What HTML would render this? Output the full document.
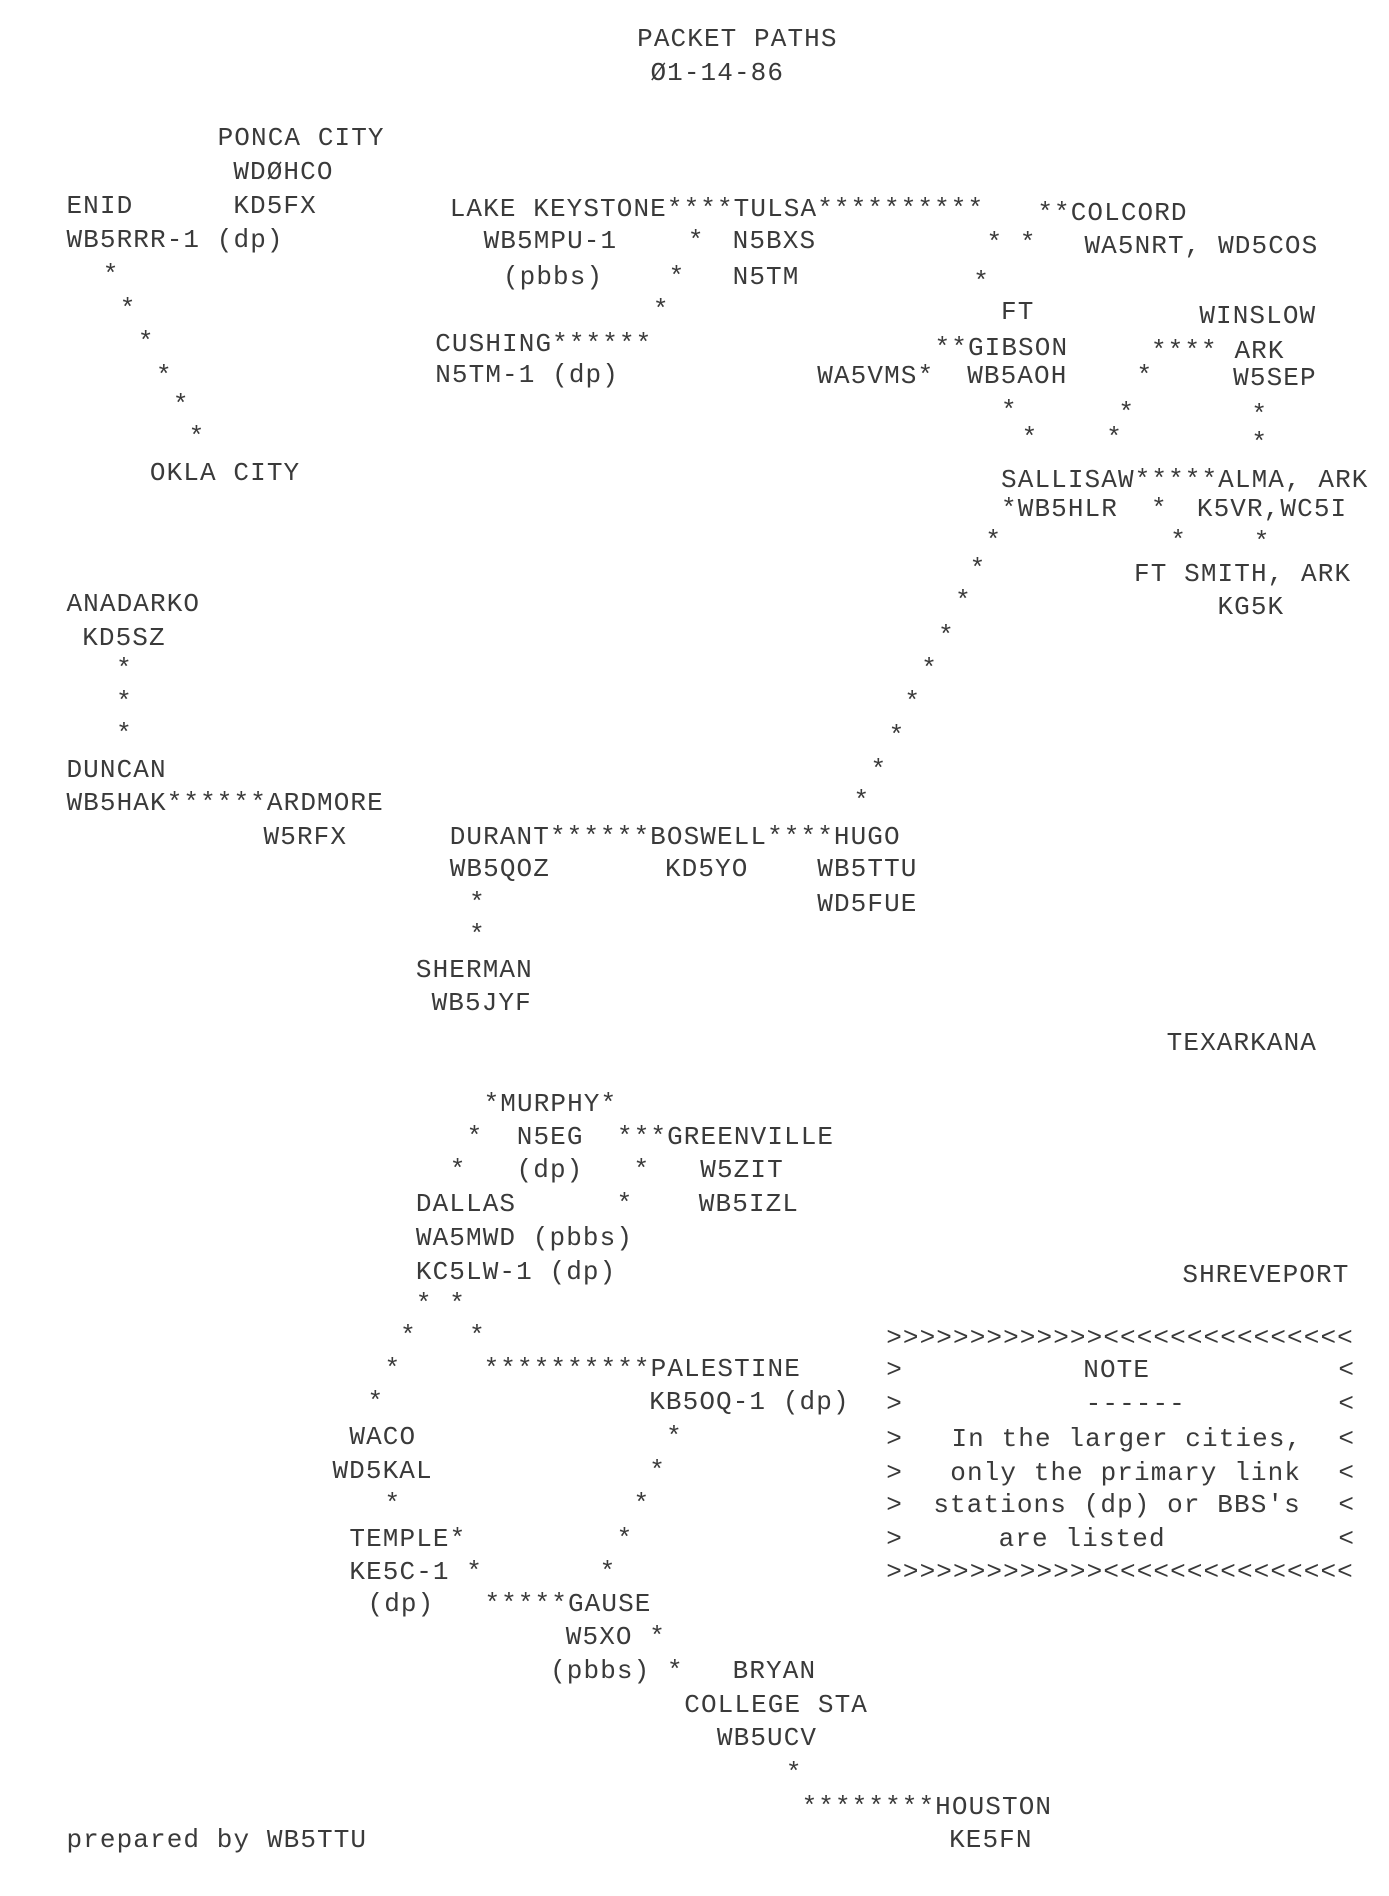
<!DOCTYPE html>
<html><head><meta charset="utf-8"><style>
html,body{margin:0;padding:0;background:#fff;}
body{width:1389px;height:1896px;position:relative;overflow:hidden;}
.t{position:absolute;white-space:pre;font-family:"Liberation Mono",monospace;font-size:26px;letter-spacing:1.1px;line-height:26px;color:#3a3a3a;
left:calc(var(--x) * 1.209px);top:calc(var(--y) * 1.21px - 13px);}
</style></head><body>
<div class="t" style="--x:527;--y:32">PACKET PATHS</div>
<div class="t" style="--x:538;--y:60">Ø1-14-86</div>
<div class="t" style="--x:180;--y:114">PONCA CITY</div>
<div class="t" style="--x:193;--y:142">WDØHCO</div>
<div class="t" style="--x:55;--y:170">ENID</div>
<div class="t" style="--x:193;--y:170">KD5FX</div>
<div class="t" style="--x:55;--y:198">WB5RRR-1 (dp)</div>
<div class="t" style="--x:85;--y:227">*</div>
<div class="t" style="--x:99;--y:255">*</div>
<div class="t" style="--x:114;--y:283">*</div>
<div class="t" style="--x:129;--y:311">*</div>
<div class="t" style="--x:143;--y:335">*</div>
<div class="t" style="--x:156;--y:361">*</div>
<div class="t" style="--x:124;--y:391">OKLA CITY</div>
<div class="t" style="--x:372;--y:173">LAKE KEYSTONE****TULSA**********</div>
<div class="t" style="--x:858;--y:176">**COLCORD</div>
<div class="t" style="--x:400;--y:199">WB5MPU-1</div>
<div class="t" style="--x:569;--y:199">*</div>
<div class="t" style="--x:606;--y:199">N5BXS</div>
<div class="t" style="--x:816;--y:201">* *</div>
<div class="t" style="--x:897;--y:203">WA5NRT, WD5COS</div>
<div class="t" style="--x:416;--y:229">(pbbs)</div>
<div class="t" style="--x:553;--y:229">*</div>
<div class="t" style="--x:606;--y:229">N5TM</div>
<div class="t" style="--x:805;--y:233">*</div>
<div class="t" style="--x:540;--y:256">*</div>
<div class="t" style="--x:828;--y:258">FT</div>
<div class="t" style="--x:992;--y:261">WINSLOW</div>
<div class="t" style="--x:360;--y:284">CUSHING******</div>
<div class="t" style="--x:773;--y:288">**GIBSON</div>
<div class="t" style="--x:952;--y:290">**** ARK</div>
<div class="t" style="--x:360;--y:310">N5TM-1 (dp)</div>
<div class="t" style="--x:676;--y:311">WA5VMS*</div>
<div class="t" style="--x:800;--y:311">WB5AOH</div>
<div class="t" style="--x:940;--y:311">*</div>
<div class="t" style="--x:1020;--y:312">W5SEP</div>
<div class="t" style="--x:828;--y:340">*</div>
<div class="t" style="--x:925;--y:341">*</div>
<div class="t" style="--x:1035;--y:343">*</div>
<div class="t" style="--x:845;--y:362">*</div>
<div class="t" style="--x:915;--y:362">*</div>
<div class="t" style="--x:1035;--y:366">*</div>
<div class="t" style="--x:828;--y:397">SALLISAW*****ALMA, ARK</div>
<div class="t" style="--x:828;--y:421">*WB5HLR</div>
<div class="t" style="--x:952;--y:421">*</div>
<div class="t" style="--x:990;--y:421">K5VR,WC5I</div>
<div class="t" style="--x:815;--y:447">*</div>
<div class="t" style="--x:968;--y:447">*</div>
<div class="t" style="--x:1037;--y:448">*</div>
<div class="t" style="--x:802;--y:470">*</div>
<div class="t" style="--x:938;--y:474">FT SMITH, ARK</div>
<div class="t" style="--x:790;--y:497">*</div>
<div class="t" style="--x:1007;--y:502">KG5K</div>
<div class="t" style="--x:776;--y:526">*</div>
<div class="t" style="--x:762;--y:553">*</div>
<div class="t" style="--x:748;--y:580">*</div>
<div class="t" style="--x:735;--y:608">*</div>
<div class="t" style="--x:720;--y:636">*</div>
<div class="t" style="--x:706;--y:662">*</div>
<div class="t" style="--x:55;--y:499">ANADARKO</div>
<div class="t" style="--x:68;--y:527">KD5SZ</div>
<div class="t" style="--x:96;--y:553">*</div>
<div class="t" style="--x:96;--y:580">*</div>
<div class="t" style="--x:96;--y:607">*</div>
<div class="t" style="--x:55;--y:636">DUNCAN</div>
<div class="t" style="--x:55;--y:664">WB5HAK******ARDMORE</div>
<div class="t" style="--x:218;--y:692">W5RFX</div>
<div class="t" style="--x:372;--y:692">DURANT******BOSWELL****HUGO</div>
<div class="t" style="--x:372;--y:718">WB5QOZ</div>
<div class="t" style="--x:550;--y:718">KD5YO</div>
<div class="t" style="--x:676;--y:718">WB5TTU</div>
<div class="t" style="--x:388;--y:746">*</div>
<div class="t" style="--x:676;--y:747">WD5FUE</div>
<div class="t" style="--x:388;--y:773">*</div>
<div class="t" style="--x:344;--y:802">SHERMAN</div>
<div class="t" style="--x:357;--y:829">WB5JYF</div>
<div class="t" style="--x:965;--y:862">TEXARKANA</div>
<div class="t" style="--x:400;--y:912">*MURPHY*</div>
<div class="t" style="--x:386;--y:940">*  N5EG  ***GREENVILLE</div>
<div class="t" style="--x:372;--y:967">*   (dp)   *   W5ZIT</div>
<div class="t" style="--x:344;--y:995">DALLAS</div>
<div class="t" style="--x:510;--y:995">*</div>
<div class="t" style="--x:578;--y:995">WB5IZL</div>
<div class="t" style="--x:344;--y:1023">WA5MWD (pbbs)</div>
<div class="t" style="--x:344;--y:1051">KC5LW-1 (dp)</div>
<div class="t" style="--x:978;--y:1054">SHREVEPORT</div>
<div class="t" style="--x:344;--y:1078">* *</div>
<div class="t" style="--x:331;--y:1104">*</div>
<div class="t" style="--x:388;--y:1104">*</div>
<div class="t" style="--x:318;--y:1131">*</div>
<div class="t" style="--x:400;--y:1131">**********PALESTINE</div>
<div class="t" style="--x:304;--y:1159">*</div>
<div class="t" style="--x:537;--y:1159">KB5OQ-1 (dp)</div>
<div class="t" style="--x:289;--y:1188">WACO</div>
<div class="t" style="--x:551;--y:1188">*</div>
<div class="t" style="--x:275;--y:1216">WD5KAL</div>
<div class="t" style="--x:537;--y:1216">*</div>
<div class="t" style="--x:318;--y:1243">*</div>
<div class="t" style="--x:524;--y:1243">*</div>
<div class="t" style="--x:289;--y:1272">TEMPLE*</div>
<div class="t" style="--x:510;--y:1272">*</div>
<div class="t" style="--x:289;--y:1299">KE5C-1 *</div>
<div class="t" style="--x:496;--y:1299">*</div>
<div class="t" style="--x:304;--y:1326">(dp)   *****GAUSE</div>
<div class="t" style="--x:468;--y:1353">W5XO *</div>
<div class="t" style="--x:455;--y:1381">(pbbs) *</div>
<div class="t" style="--x:606;--y:1381">BRYAN</div>
<div class="t" style="--x:566;--y:1409">COLLEGE STA</div>
<div class="t" style="--x:593;--y:1436">WB5UCV</div>
<div class="t" style="--x:650;--y:1465">*</div>
<div class="t" style="--x:663;--y:1493">********HOUSTON</div>
<div class="t" style="--x:785;--y:1521">KE5FN</div>
<div class="t" style="--x:55;--y:1521">prepared by WB5TTU</div>
<div class="t" style="--x:733;--y:1106">&gt;&gt;&gt;&gt;&gt;&gt;&gt;&gt;&gt;&gt;&gt;&gt;&gt;&lt;&lt;&lt;&lt;&lt;&lt;&lt;&lt;&lt;&lt;&lt;&lt;&lt;&lt;&lt;</div>
<div class="t" style="--x:733;--y:1132">&gt;</div><div class="t" style="--x:1107;--y:1132">&lt;</div>
<div class="t" style="--x:733;--y:1160">&gt;</div><div class="t" style="--x:1107;--y:1160">&lt;</div>
<div class="t" style="--x:733;--y:1189">&gt;</div><div class="t" style="--x:1107;--y:1189">&lt;</div>
<div class="t" style="--x:733;--y:1217">&gt;</div><div class="t" style="--x:1107;--y:1217">&lt;</div>
<div class="t" style="--x:733;--y:1244">&gt;</div><div class="t" style="--x:1107;--y:1244">&lt;</div>
<div class="t" style="--x:733;--y:1272">&gt;</div><div class="t" style="--x:1107;--y:1272">&lt;</div>
<div class="t" style="--x:733;--y:1299">&gt;&gt;&gt;&gt;&gt;&gt;&gt;&gt;&gt;&gt;&gt;&gt;&gt;&lt;&lt;&lt;&lt;&lt;&lt;&lt;&lt;&lt;&lt;&lt;&lt;&lt;&lt;&lt;</div>
<div class="t" style="--x:896;--y:1132">NOTE</div>
<div class="t" style="--x:898;--y:1160">------</div>
<div class="t" style="--x:787;--y:1189">In the larger cities,</div>
<div class="t" style="--x:786;--y:1217">only the primary link</div>
<div class="t" style="--x:772;--y:1244">stations (dp) or BBS's</div>
<div class="t" style="--x:826;--y:1272">are listed</div>
</body></html>
